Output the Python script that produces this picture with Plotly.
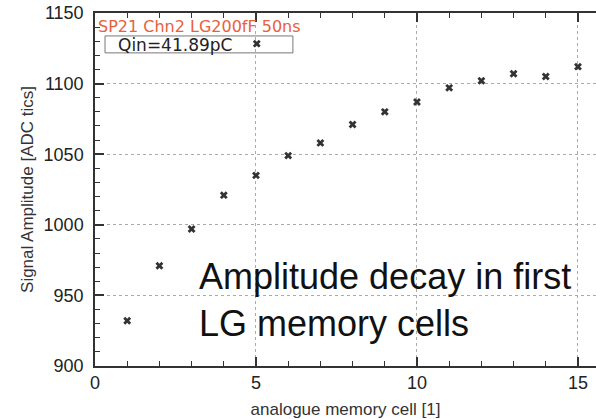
import plotly.graph_objects as go

cells = [1, 2, 3, 4, 5, 6, 7, 8, 9, 10, 11, 12, 13, 14, 15]
amplitude = [932, 971, 997, 1021, 1035, 1049, 1058, 1071, 1080, 1087, 1097, 1102, 1107, 1105, 1112]

series_label = "Qin=41.89pC"
plot_title = "SP21 Chn2 LG200fF 50ns"
note_text = "Amplitude decay in first<br>LG memory cells"
x_title = "analogue memory cell [1]"
y_title = "Signal Amplitude [ADC tics]"

FONT = "Liberation Sans, Arial, Helvetica, sans-serif"
WIDE = "DejaVu Sans, sans-serif"
AX = "#333333"

fig = go.Figure()
fig.add_trace(go.Scatter(
    x=cells, y=amplitude, mode="markers", name="",
    marker=dict(symbol="x", size=7, color="#333333", line=dict(width=0)),
    showlegend=True,
))

fig.update_layout(
    width=596, height=419,
    margin=dict(l=95, r=0, t=13, b=53),
    paper_bgcolor="white", plot_bgcolor="white",
    font=dict(family=FONT, size=17, color="#333333"),
    showlegend=True,
    legend=dict(
        orientation="h",
        x=0.283, y=0.912, xanchor="left", yanchor="middle",
        bgcolor="rgba(255,255,255,0)",
        bordercolor="rgba(0,0,0,0)", borderwidth=0,
        font=dict(family=WIDE, size=14, color="#222222"),
        itemwidth=30,
    ),
    xaxis=dict(
        range=[0, 15.56], dtick=5, tick0=0,
        showline=True, linecolor=AX, linewidth=1.5, mirror="allticks",
        ticks="inside", ticklen=9, tickwidth=1.5, tickcolor=AX,
        minor=dict(dtick=1, ticks="inside", ticklen=5, tickcolor=AX, tickwidth=1, showgrid=False),
        showgrid=True, gridcolor="#aaaaaa", griddash="dot", gridwidth=1,
        zeroline=False,
        title=dict(text=x_title, standoff=11, font=dict(size=17)),
        tickfont=dict(size=18, color="#222222"),
    ),
    yaxis=dict(
        range=[900, 1150], dtick=50, tick0=900,
        showline=True, linecolor=AX, linewidth=1.5, mirror=False,
        ticks="inside", ticklen=9, tickwidth=1.5, tickcolor=AX,
        minor=dict(dtick=10, ticks="inside", ticklen=5, tickcolor=AX, tickwidth=1, showgrid=False),
        showgrid=True, gridcolor="#aaaaaa", griddash="dot", gridwidth=1,
        zeroline=False,
        title=dict(text=y_title, standoff=6, font=dict(size=17)),
        tickfont=dict(size=18, color="#222222"),
        ticklabelstandoff=6,
    ),
    shapes=[
        dict(type="rect", xref="paper", yref="paper",
             x0=0.02, x1=0.395, y0=0.887, y1=0.935,
             line=dict(color="#777777", width=1), fillcolor="rgba(0,0,0,0)"),
    ],
    annotations=[
        dict(text=plot_title, xref="paper", yref="paper", x=0.002, y=0.963,
             xanchor="left", yanchor="middle", showarrow=False,
             font=dict(family=WIDE, size=16, color="#e8603c")),
        dict(text=series_label, xref="paper", yref="paper", x=0.042, y=0.910,
             xanchor="left", yanchor="middle", showarrow=False,
             font=dict(family=WIDE, size=17, color="#222222")),
        dict(text=note_text, xref="paper", yref="paper", x=0.203, y=0.187,
             xanchor="left", yanchor="middle", align="left", showarrow=False,
             font=dict(family=FONT, size=36, color="#111111")),
    ],
)

fig.write_html("out.html")
